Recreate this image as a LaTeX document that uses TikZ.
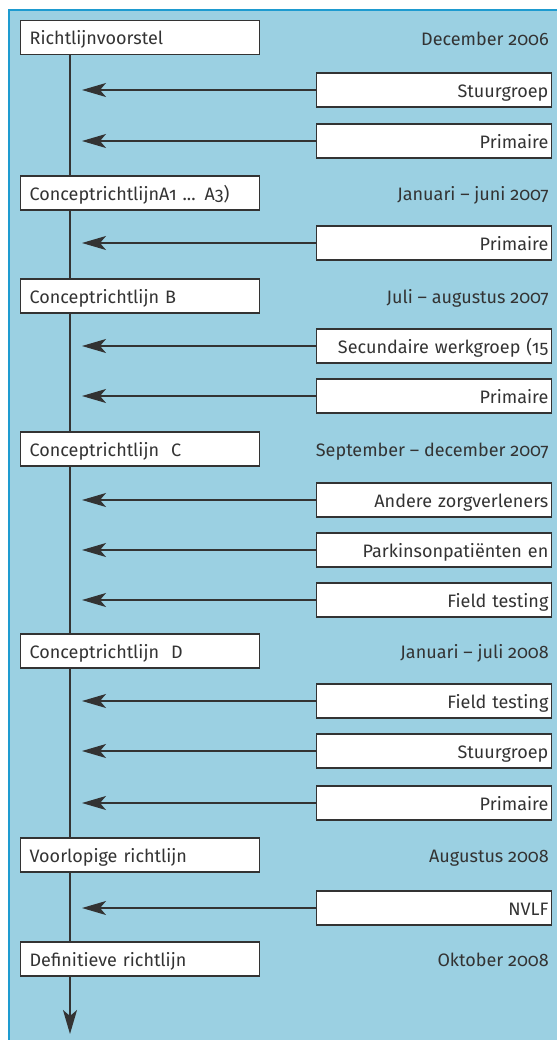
\documentclass[tikz,border=0pt]{standalone}
\usepackage{fontspec}
\setmainfont{Fira Sans}[Numbers=OldStyle]
\usetikzlibrary{arrows.meta}
\definecolor{bgblue}{HTML}{9BD0E2}
\definecolor{edgeblue}{HTML}{1E9BD0}
\definecolor{ink}{HTML}{333333}
\tikzset{
  x=1pt,y=-1pt,
  every node/.style={font=\fontsize{18}{20}\selectfont, text=ink, text height=17pt, text depth=2pt},
  lbox/.style={draw=ink, line width=1.3pt, fill=white, minimum height=34pt, text width=221pt, inner xsep=9pt, inner ysep=0pt, align=left, anchor=west},
  rbox/.style={draw=ink, line width=1.3pt, fill=white, minimum height=34pt, text width=229pt, inner xsep=3pt, inner ysep=0pt, align=right, anchor=east},
  datelbl/.style={anchor=east, inner sep=0pt},
  arr/.style={draw=ink, line width=1.3pt, -{Stealth[length=24pt,width=14pt,inset=6pt]}},
  spine/.style={draw=ink, line width=1.5pt, -{Stealth[length=24pt,width=14pt,inset=6pt]}}
}
\begin{document}
\begin{tikzpicture}
\useasboundingbox (0,0) rectangle (557,1040);
\fill[bgblue] (9,10) rectangle (557,1040);
\draw[edgeblue, line width=1.5pt] (9,1040) -- (9,10) -- (557,10);
% spine
\coordinate (top) at (70,55);
\coordinate (bot) at (70,1034);
\draw[spine] (top) -- (bot);
% left boxes
\node[lbox] (l1) at (20,37.5) {Richtlijnvoorstel};
\node[lbox] (l2) at (20,193) {ConceptrichtlijnA1 ... A3)};
\node[lbox] (l3) at (20,296) {Conceptrichtlijn B};
\node[lbox] (l4) at (20,449) {Conceptrichtlijn\ \ C};
\node[lbox] (l5) at (20,651) {Conceptrichtlijn\ \ D};
\node[lbox] (l6) at (20,855) {Voorlopige richtlijn};
\node[lbox] (l7) at (20,959) {Definitieve richtlijn};
% dates
\node[datelbl] (d1) at (549,38) {December 2006};
\node[datelbl] (d2) at (549,193) {Januari – juni 2007};
\node[datelbl] (d3) at (549,296) {Juli – augustus 2007};
\node[datelbl] (d4) at (549,449) {September – december 2007};
\node[datelbl] (d5) at (549,651) {Januari – juli 2008};
\node[datelbl] (d6) at (549,855) {Augustus 2008};
\node[datelbl] (d7) at (549,959) {Oktober 2008};
% right boxes
\node[rbox] (r1) at (552,90) {Stuurgroep};
\node[rbox] (r2) at (552,141) {Primaire};
\node[rbox] (r3) at (552,243) {Primaire};
\node[rbox] (r4) at (552,346) {Secundaire werkgroep (15};
\node[rbox] (r5) at (552,396) {Primaire};
\node[rbox] (r6) at (552,500) {Andere zorgverleners};
\node[rbox] (r7) at (552,550) {Parkinsonpatiënten en};
\node[rbox] (r8) at (552,600) {Field testing};
\node[rbox] (r9) at (552,701) {Field testing};
\node[rbox] (r10) at (552,751) {Stuurgroep};
\node[rbox] (r11) at (552,803) {Primaire};
\node[rbox] (r12) at (552,908) {NVLF};
% arrow targets
\foreach \i/\y in {1/90,2/141,3/243,4/346,5/396,6/500,7/550,8/600,9/701,10/751,11/803,12/908}{
  \coordinate (t\i) at (82,\y);
  \draw[arr] (r\i.west) -- (t\i);
}
\end{tikzpicture}
\end{document}
